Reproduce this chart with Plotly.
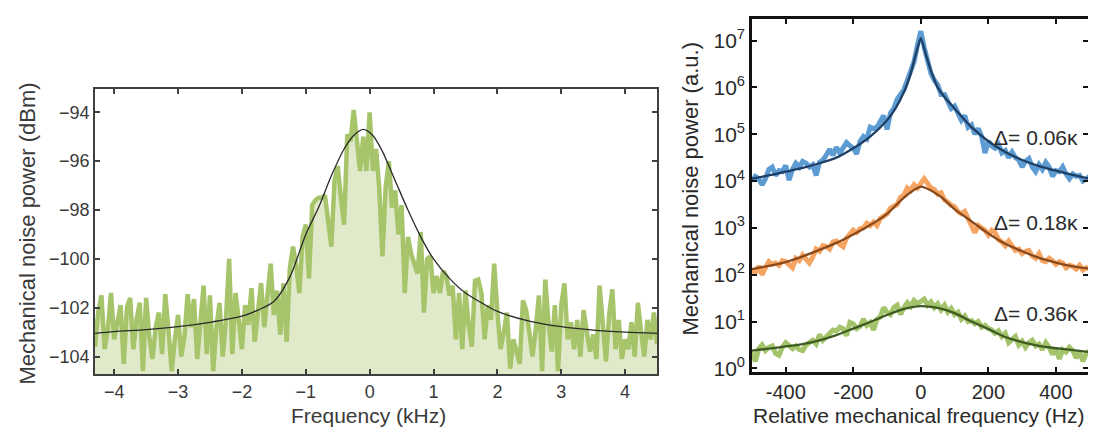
import numpy as np
import plotly.graph_objects as go

# ---------------- Left panel data (frequency in kHz, power in dBm) ----------------
freq_khz = np.round(np.linspace(-4.30, 4.50, 177), 2)
noise_dbm = [
    -103.6, -102.2, -101.5, -103.7, -102.9, -101.4, -103.3, -102.6, -101.9, -104.3,
    -102.0, -101.6, -103.7, -102.5, -101.8, -104.6, -101.6, -103.2, -104.1, -102.8,
    -102.2, -103.9, -101.45, -102.9, -104.6, -103.3, -102.3, -104.0, -103.2, -101.45,
    -102.8, -101.65, -104.1, -102.6, -101.1, -103.9, -101.5, -104.6, -102.8, -101.8,
    -104.0, -102.5, -100.0, -103.9, -101.4, -102.5, -103.7, -101.9, -102.7, -101.2,
    -103.4, -102.2, -101.0, -102.8, -101.6, -100.2, -102.3, -101.3, -103.1, -101.0,
    -103.4, -100.4, -99.5, -100.3, -101.4, -99.1, -98.6, -100.8, -97.8, -97.6,
    -97.5, -97.5, -97.4, -98.5, -99.5, -96.8, -96.2, -97.5, -98.6, -94.9,
    -95.2, -93.9, -95.1, -96.4, -95.0, -96.4, -94.0, -96.4, -95.5, -97.1,
    -99.9, -97.1, -96.0, -97.9, -97.2, -99.0, -97.8, -101.4, -99.1, -99.8,
    -100.2, -100.6, -98.9, -102.2, -100.0, -99.9, -101.4, -100.7, -101.4, -100.5,
    -100.7, -101.5, -101.1, -103.3, -101.4, -103.7, -101.3, -102.7, -103.6, -100.9,
    -100.85, -101.4, -103.3, -101.9, -102.5, -100.2, -102.2, -103.7, -103.0, -102.2,
    -104.5, -103.3, -103.8, -104.3, -101.7, -102.1, -103.0, -104.0, -102.9, -101.5,
    -104.6, -100.85, -102.6, -103.8, -101.9, -104.6, -101.9, -101.0, -103.3, -102.6,
    -103.7, -102.5, -104.0, -102.1, -103.0, -103.8, -103.1, -104.1, -101.1, -102.7,
    -104.2, -102.3, -101.25, -103.7, -102.5, -104.1, -103.3, -103.7, -102.6, -104.0,
    -101.8, -103.0, -104.0, -102.5, -103.3, -102.2, -103.5,
]
fit_khz = [-4.3, -4.0, -3.5, -3.0, -2.5, -2.0, -1.75, -1.5, -1.25, -1.0, -0.8, -0.6,
           -0.4, -0.25, -0.1, 0.05, 0.2, 0.4, 0.6, 0.8, 1.0, 1.25, 1.5, 1.75, 2.0,
           2.5, 3.0, 3.5, 4.0, 4.5]
fit_dbm = [-103.05, -102.98, -102.9, -102.78, -102.6, -102.35, -102.1, -101.75, -100.75,
           -99.0, -97.9, -96.6, -95.5, -94.95, -94.7, -94.95, -95.6, -96.8, -98.0, -99.1,
           -100.0, -100.8, -101.4, -101.8, -102.15, -102.55, -102.78, -102.92, -103.0, -103.05]

# ---------------- Right panel data (relative frequency in Hz, log10 of power in a.u.) ----------------
rel_hz = np.arange(-500, 501, 10)
blue_log10 = [
    4.0, 4.1, 4.05, 3.92, 4.05, 4.25, 4.3, 4.12, 4.22, 4.2,
    4.33, 4.02, 4.25, 4.38, 4.3, 4.42, 4.38, 4.3, 4.35, 4.12,
    4.4, 4.45, 4.55, 4.68, 4.55, 4.72, 4.6, 4.7, 4.82, 4.75,
    4.7, 4.58, 4.85, 4.95, 4.9, 5.15, 5.12, 5.15, 5.3, 5.4,
    5.1, 5.45, 5.55, 5.75, 5.85, 5.95, 6.15, 6.35, 6.55, 6.9,
    7.2, 6.85, 6.55, 6.3, 6.15, 6.05, 5.85, 5.85, 5.7, 5.55,
    5.6, 5.45, 5.3, 5.4, 5.15, 5.2, 5.0, 5.12, 4.95, 4.6,
    4.85, 4.75, 4.7, 4.78, 4.6, 4.65, 4.5, 4.62, 4.5, 4.45,
    4.3, 4.42, 4.48, 4.3, 4.2, 4.35, 4.25, 4.4, 4.3, 4.1,
    4.22, 4.2, 4.3, 4.15, 4.05, 4.15, 4.1, 4.12, 4.0, 4.05,
    4.1,
]
orange_log10 = [
    2.1, 2.05, 2.18, 2.0, 2.15, 2.28, 2.22, 2.25, 2.2, 2.3,
    2.28, 2.22, 2.15, 2.35, 2.3, 2.42, 2.35, 2.25, 2.38, 2.55,
    2.5, 2.62, 2.6, 2.55, 2.7, 2.72, 2.65, 2.6, 2.78, 2.85,
    2.95, 2.9, 2.98, 3.0, 3.1, 3.05, 3.12, 3.05, 3.2, 3.25,
    3.3, 3.42, 3.45, 3.5, 3.65, 3.7, 3.85, 3.8, 3.92, 3.85,
    3.95, 4.05, 3.95, 3.85, 3.82, 3.72, 3.75, 3.6, 3.55, 3.48,
    3.45, 3.35, 3.3, 3.35, 3.2, 3.05, 2.9, 3.05, 3.0, 2.95,
    2.85, 2.95, 2.9, 2.75, 2.7, 2.62, 2.72, 2.6, 2.52, 2.55,
    2.45, 2.5, 2.52, 2.4, 2.35, 2.45, 2.3, 2.28, 2.35, 2.3,
    2.22, 2.28, 2.25, 2.15, 2.2, 2.18, 2.12, 2.2, 2.1, 2.15,
    2.12,
]
green_log10 = [
    0.35, 0.15, 0.42, 0.5, 0.38, 0.45, 0.48, 0.32, 0.28, 0.45,
    0.55, 0.5, 0.42, 0.48, 0.4, 0.38, 0.5, 0.55, 0.6, 0.52,
    0.72, 0.6, 0.68, 0.72, 0.82, 0.8, 0.88, 0.85, 0.7, 0.98,
    0.95, 0.85, 0.9, 1.05, 0.92, 0.98, 0.82, 1.05, 1.1, 1.3,
    1.2, 1.15, 1.3, 1.35, 1.15, 1.3, 1.4, 1.32, 1.45, 1.38,
    1.42, 1.48, 1.35, 1.42, 1.3, 1.38, 1.25, 1.35, 1.2, 1.28,
    1.15, 1.2, 1.05, 1.12, 1.0, 1.02, 0.95, 1.0, 0.88, 0.92,
    0.85, 0.82, 0.75, 0.8, 0.68, 0.75, 0.55, 0.62, 0.68, 0.5,
    0.58, 0.45, 0.55, 0.6, 0.48, 0.52, 0.4, 0.55, 0.45, 0.3,
    0.42, 0.2, 0.4, 0.35, 0.45, 0.38, 0.22, 0.35, 0.15, 0.32,
    0.38,
]
blue_fit_hz = [-500, -450, -400, -350, -300, -250, -200, -150, -100, -75, -50, -30, -15, 0,
               15, 30, 50, 75, 100, 150, 200, 250, 300, 350, 400, 450, 500]
blue_fit_log10 = [4.05, 4.12, 4.2, 4.28, 4.38, 4.5, 4.7, 4.95, 5.3, 5.55, 5.9, 6.3, 6.7, 7.05,
                  6.7, 6.35, 6.0, 5.75, 5.55, 5.15, 4.85, 4.62, 4.45, 4.32, 4.22, 4.13, 4.05]
orange_fit_hz = [-500, -450, -400, -350, -300, -250, -200, -150, -100, -60, -30, 0,
                 30, 60, 100, 150, 200, 250, 300, 350, 400, 450, 500]
orange_fit_log10 = [2.12, 2.19, 2.27, 2.39, 2.53, 2.68, 2.86, 3.06, 3.3, 3.58, 3.76, 3.88,
                    3.8, 3.66, 3.4, 3.14, 2.88, 2.66, 2.5, 2.36, 2.26, 2.18, 2.13]
green_fit_hz = [-500, -450, -400, -350, -300, -250, -200, -150, -100, -50, 0,
                50, 100, 150, 200, 250, 300, 350, 400, 450, 500]
green_fit_log10 = [0.38, 0.42, 0.47, 0.52, 0.6, 0.71, 0.85, 0.99, 1.14, 1.27, 1.33,
                   1.29, 1.18, 1.0, 0.84, 0.67, 0.56, 0.48, 0.43, 0.39, 0.35]

labels_delta = ["Δ= 0.06κ", "Δ= 0.18κ", "Δ= 0.36κ"]

left_xticks = [-4, -3, -2, -1, 0, 1, 2, 3, 4]
left_yticks = [-104, -102, -100, -98, -96, -94]
right_xticks = [-400, -200, 0, 200, 400]
right_xticktext = ["-400", "-200", "0", "200", "400"]
right_yexp = [0, 1, 2, 3, 4, 5, 6, 7]

LEFT_Y_RANGE = [-104.72, -93.05]

# ---------------- Figure ----------------
fig = go.Figure()

# floor for the fill under the spectrum (below visible range)
fig.add_trace(go.Scatter(x=freq_khz, y=[LEFT_Y_RANGE[0] - 2] * len(freq_khz), mode="lines",
                         line=dict(width=0, color="rgba(0,0,0,0)"), hoverinfo="skip",
                         showlegend=False, xaxis="x", yaxis="y"))
fig.add_trace(go.Scatter(x=freq_khz, y=noise_dbm, mode="lines", fill="tonexty",
                         fillcolor="#e1e9cb", line=dict(color="#a6c46a", width=4.5),
                         showlegend=False, xaxis="x", yaxis="y"))
fig.add_trace(go.Scatter(x=fit_khz, y=fit_dbm, mode="lines",
                         line=dict(color="#2a2a2a", width=1.3, shape="spline", smoothing=0.8),
                         showlegend=False, xaxis="x", yaxis="y"))

series = [
    (blue_log10, "#5d9bd3", blue_fit_hz, blue_fit_log10, "#1f3e63"),
    (orange_log10, "#f5a462", orange_fit_hz, orange_fit_log10, "#8a4a1c"),
    (green_log10, "#a3c46a", green_fit_hz, green_fit_log10, "#3f5b24"),
]
for data, dcol, fx, fy, fcol in series:
    fig.add_trace(go.Scatter(x=rel_hz, y=10 ** np.array(data), mode="lines",
                             line=dict(color=dcol, width=5), showlegend=False,
                             xaxis="x2", yaxis="y2"))
for data, dcol, fx, fy, fcol in series:
    fig.add_trace(go.Scatter(x=fx, y=10 ** np.array(fy), mode="lines",
                             line=dict(color=fcol, width=2.3, shape="spline", smoothing=0.6),
                             showlegend=False, xaxis="x2", yaxis="y2"))

FAMILY = "Liberation Sans, Arial, sans-serif"
left_font = dict(family=FAMILY, size=18, color="#3a3a3a")
right_font = dict(family=FAMILY, size=21, color="#2a2a2a")

left_axis_common = dict(showline=True, linecolor="#404040", linewidth=2, mirror="ticks",
                        ticks="inside", ticklen=5, tickwidth=1.5, tickcolor="#404040",
                        showgrid=False, zeroline=False, tickfont=left_font)
right_axis_common = dict(showline=True, linecolor="#111111", linewidth=2.5, mirror="ticks",
                         ticks="inside", ticklen=5, tickwidth=2, tickcolor="#111111",
                         showgrid=False, zeroline=False)

fig.update_layout(
    width=1096, height=432,
    margin=dict(l=0, r=0, t=0, b=0),
    paper_bgcolor="white", plot_bgcolor="white",
    showlegend=False,
    xaxis=dict(domain=[0.0794, 0.5922], range=[-4.3, 4.5], tickvals=left_xticks,
               anchor="y", **left_axis_common),
    yaxis=dict(domain=[0.1366, 0.8086], range=LEFT_Y_RANGE, tickvals=left_yticks,
               anchor="x", **left_axis_common),
    xaxis2=dict(domain=[0.6788, 0.9854], range=[-500, 495], tickvals=right_xticks,
                ticktext=right_xticktext, anchor="y2",
                tickfont=dict(family=FAMILY, size=20, color="#2a2a2a"), **right_axis_common),
    yaxis2=dict(domain=[0.1412, 0.973], type="log", range=[-0.08, 7.45],
                tickvals=[10 ** k for k in right_yexp],
                ticktext=[f"10<sup>{k}</sup>" for k in right_yexp],
                anchor="x2", tickfont=right_font, **right_axis_common),
)

annotations = [
    dict(text="Mechanical noise power (dBm)", x=0.018, y=0.4676, textangle=-90,
         font=dict(family=FAMILY, size=22, color="#3a3a3a")),
    dict(text="Frequency (kHz)", x=0.3285, y=0.038,
         font=dict(family=FAMILY, size=21, color="#3a3a3a")),
    dict(text="Mechanical noise power (a.u.)", x=0.6223, y=0.572, textangle=-90,
         font=dict(family=FAMILY, size=22, color="#2a2a2a")),
    dict(text="Relative mechanical frequency (Hz)", x=0.831, y=0.04,
         font=dict(family=FAMILY, size=21, color="#2a2a2a")),
]
for a in annotations:
    a.update(xref="paper", yref="paper", xanchor="center", yanchor="middle", showarrow=False)
for lab, ypos in zip(labels_delta, [0.695, 0.495, 0.279]):
    annotations.append(dict(text=lab, x=0.978, y=ypos, xref="paper", yref="paper",
                            xanchor="right", yanchor="middle", showarrow=False,
                            font=dict(family=FAMILY, size=21, color="#2a2a2a")))
fig.update_layout(annotations=annotations)

fig.write_html("out.html")
